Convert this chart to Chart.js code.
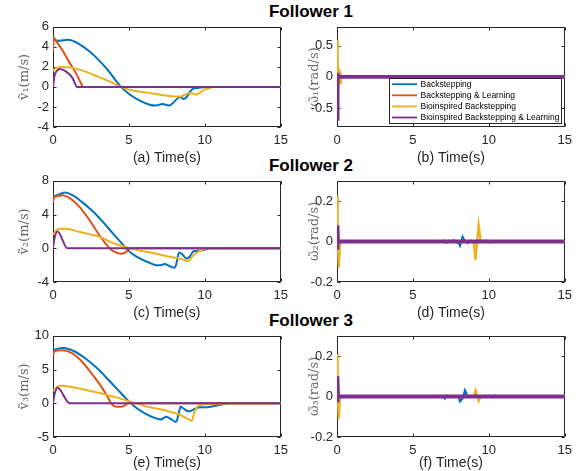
<!DOCTYPE html>
<html>
<head>
<meta charset="utf-8">
<title>Followers</title>
<script src="https://cdn.jsdelivr.net/npm/chart.js@4.4.0/dist/chart.umd.min.js"></script>
<style>
  html, body { margin: 0; padding: 0; background: #fff; }
  #fig { position: relative; width: 583px; height: 471px; overflow: hidden; background: #fff; }
  #fig canvas { position: absolute; }
  .ftitle {
    position: absolute; width: 200px; margin-left: -100px; text-align: center;
    font: bold 17px "Liberation Sans", Arial, sans-serif; line-height: 17px; color: #000;
  }
</style>
</head>
<body>
<div id="fig">
  <div class="ftitle" style="left:311px; top:3px">Follower 1</div>
  <div class="ftitle" style="left:311px; top:157px">Follower 2</div>
  <div class="ftitle" style="left:311px; top:312px">Follower 3</div>
</div>
<script>
// legend names + matlab default colours
const seriesNames = ['Backstepping', 'Backstepping & Learning', 'Bioinspired Backstepping', 'Bioinspired Backstepping & Learning'];
const seriesColors = ['#0072BD', '#D95319', '#EDB120', '#7E2F8E'];

const timeTicks = [0, 5, 10, 15];
const v1Ticks = [-4, -2, 0, 2, 4, 6];
const v2Ticks = [-4, -2, 0, 2, 4, 6, 8];
const v3Ticks = [-5, 0, 5, 10];
const w1Ticks = [-0.5, 0, 0.5];
const w2Ticks = [-0.2, 0, 0.2];
const w3Ticks = [-0.2, 0, 0.2];

// (a) linear velocity error, follower 1  [t, value]
const v1Blue = [[0,4.9],[0.2,4.65],[0.45,4.6],[1.0,4.7],[1.7,4.3],[2.35,3.6],[3.0,2.7],[3.6,1.7],[4.15,0.6],[4.47,0],[5.1,-0.8],[5.75,-1.4],[6.4,-1.8],[6.8,-1.85],[7.2,-1.7],[7.65,-1.85],[7.9,-1.6],[8.2,-1.15],[8.4,-1.0],[8.6,-1.2],[8.8,-1.0],[9.15,-0.25],[9.5,-0.1],[9.8,-0.05],[10.2,0],[15,0]];
const v1Orange = [[0,3.6],[0.05,4.9],[0.2,4.6],[0.64,3.6],[1.06,2.5],[1.5,1.4],[1.8,0.5],[2.0,0],[15,0]];
const v1Yellow = [[0,1.6],[0.15,1.85],[0.6,2.0],[1.3,1.9],[2.1,1.55],[3.0,1.0],[3.85,0.45],[4.47,0],[5.1,-0.3],[6.2,-0.57],[7.2,-0.8],[8.1,-0.95],[8.5,-0.92],[8.8,-0.67],[9.15,-0.62],[9.4,-0.76],[9.7,-0.55],[10.0,-0.25],[10.4,-0.08],[10.6,0],[15,0]];
const v1Purple = [[0,0],[0.1,1.1],[0.25,1.6],[0.45,1.8],[0.85,1.55],[1.28,0.9],[1.6,0],[15,0]];

// (c) follower 2
const v2Blue = [[0,6.1],[0.43,6.4],[0.75,6.6],[1.28,6.3],[1.9,5.5],[2.55,4.5],[3.2,3.3],[3.83,2.0],[4.47,0.7],[5.0,-0.34],[5.5,-1.0],[6.2,-1.6],[6.8,-2.0],[7.1,-2.0],[7.35,-1.86],[7.66,-2.1],[7.98,-2.3],[8.1,-2.0],[8.3,-0.5],[8.5,-0.7],[8.8,-1.2],[9.0,-1.0],[9.25,-0.35],[9.6,-0.3],[9.9,-0.2],[10.3,0],[15,0]];
const v2Orange = [[0,5.5],[0.1,6.1],[0.64,6.3],[1.06,6.0],[1.7,5.0],[2.34,3.5],[2.98,1.75],[3.4,0.7],[3.72,0],[4.04,-0.4],[4.47,-0.65],[4.8,-0.45],[5.0,-0.1],[5.1,0],[15,0]];
const v2Yellow = [[0,1.6],[0.2,2.1],[0.45,2.3],[0.85,2.3],[1.7,1.95],[3.0,1.4],[4.0,0.6],[4.9,0.1],[5.5,-0.2],[6.6,-0.57],[7.66,-1.0],[8.5,-1.3],[8.94,-1.5],[9.15,-1.0],[9.5,-0.5],[9.8,-0.2],[10.1,0],[15,0]];
const v2Purple = [[0,0],[0.1,1.2],[0.3,2.0],[0.95,0],[15,0]];

// (e) follower 3
const v3Blue = [[0,7.85],[0.3,8.1],[0.64,8.2],[0.85,8.15],[1.5,7.6],[2.1,6.7],[3.0,5.0],[3.6,3.6],[4.25,2.05],[4.9,0.5],[5.5,-0.7],[6.2,-1.67],[6.8,-2.24],[7.1,-2.4],[7.45,-2.0],[7.8,-2.4],[8.1,-2.76],[8.26,-1.7],[8.4,-0.5],[8.6,-0.8],[8.94,-1.2],[9.15,-1.05],[9.36,-0.8],[9.8,-0.6],[10.2,-0.6],[10.6,-0.4],[11.1,-0.2],[11.5,0],[15,0]];
const v3Orange = [[0,7.1],[0.1,7.76],[0.64,7.86],[1.28,7.4],[1.9,6.2],[2.55,4.4],[3.2,2.4],[3.6,0.95],[3.83,0],[4.15,-0.5],[4.47,-0.52],[4.8,-0.2],[4.94,0],[15,0]];
const v3Yellow = [[0,1.8],[0.17,2.2],[0.43,2.6],[1.06,2.5],[1.9,2.1],[3.0,1.57],[4.04,0.95],[5.1,0.24],[6.2,-0.5],[7.2,-0.95],[8.3,-1.67],[9.04,-2.5],[9.15,-2.6],[9.3,-1.4],[9.5,-0.5],[9.8,-0.24],[10.4,-0.1],[11.5,-0.05],[11.9,0],[15,0]];
const v3Purple = [[0,0],[0.1,1.3],[0.3,2.3],[1.1,0],[15,0]];

// (b) angular velocity error, follower 1
const w1Blue = [[0,0.05],[0.03,-0.08],[0.06,0.03],[0.1,0],[15,0]];
const w1Orange = [[0,-0.05],[0.03,0.06],[0.06,-0.02],[0.1,0],[15,0]];
const w1Yellow = [[0,0],[0.02,0.59],[0.06,0.3],[0.1,-0.14],[0.15,0.12],[0.2,-0.1],[0.25,0.03],[0.3,0],[15,0]];
const w1Purple = [[0,-0.67],[0.04,0.06],[0.08,0],[15,0]];

// (d) follower 2
const w2Blue = [[0,0],[0.03,0.03],[0.06,-0.02],[0.1,0],[6.9,0],[7.0,0.005],[7.2,-0.006],[7.4,0.004],[7.6,0],[8.0,-0.005],[8.1,-0.02],[8.2,0.005],[8.27,0.023],[8.4,0.005],[8.6,-0.008],[8.8,0.004],[9.0,0],[15,0]];
const w2Orange = [[0,0],[0.03,-0.03],[0.06,0.02],[0.1,0],[7.5,0],[7.7,0.006],[7.9,-0.006],[8.1,0],[9.6,0],[9.8,0.005],[10.0,-0.005],[10.2,0],[15,0]];
const w2Yellow = [[0,0],[0.02,0.227],[0.06,0.05],[0.12,-0.128],[0.18,-0.03],[0.25,0],[9.0,0],[9.12,-0.09],[9.2,-0.02],[9.33,0.08],[9.45,0.01],[9.6,0],[15,0]];
const w2Purple = [[0,-0.03],[0.03,0.08],[0.07,0],[15,0]];

// (f) follower 3
const w3Blue = [[0,0],[0.03,0.02],[0.06,-0.02],[0.1,0],[7.0,0],[7.1,-0.01],[7.2,0.004],[7.5,0],[8.0,0],[8.1,-0.024],[8.27,-0.01],[8.43,0.03],[8.6,0],[10.3,0],[10.4,0.006],[10.5,0],[15,0]];
const w3Orange = [[0,0],[0.03,-0.02],[0.06,0.02],[0.1,0],[15,0]];
const w3Yellow = [[0,0],[0.02,0.21],[0.06,0.05],[0.12,-0.11],[0.18,-0.02],[0.25,0],[9.0,0],[9.12,0.03],[9.2,0.01],[9.33,-0.02],[9.45,0],[15,0]];
const w3Purple = [[0,-0.02],[0.03,0.1],[0.07,0],[15,0]];

const TXT = '#262626';
const SANS = '"Liberation Sans", Arial, sans-serif';
const SERIF = '"DejaVu Serif", "Liberation Serif", serif';

// matlab style box with inward ticks on all four sides
const boxPlugin = {
  id: 'axesBox',
  beforeDatasetsDraw(chart) {
    const { ctx, chartArea: a, scales: { x, y } } = chart;
    const L = Math.round(a.left) + 0.5, R = Math.round(a.right) - 0.5;
    const T = Math.round(a.top) + 0.5, B = Math.round(a.bottom) - 0.5;
    ctx.save();
    ctx.strokeStyle = TXT;
    ctx.lineWidth = 1;
    ctx.strokeRect(L, T, R - L, B - T);
    ctx.beginPath();
    x.ticks.forEach(t => {
      const px = Math.round(x.getPixelForValue(t.value)) + 0.5;
      ctx.moveTo(px, B); ctx.lineTo(px, B - 3);
      ctx.moveTo(px, T); ctx.lineTo(px, T + 3);
    });
    y.ticks.forEach(t => {
      const py = Math.round(y.getPixelForValue(t.value)) + 0.5;
      ctx.moveTo(L, py); ctx.lineTo(L + 3, py);
      ctx.moveTo(R, py); ctx.lineTo(R - 3, py);
    });
    ctx.stroke();
    ctx.restore();
  }
};

// legend box in the lower right corner of panel (b)
const boxLegend = {
  id: 'boxLegend',
  afterDatasetsDraw(chart) {
    const { ctx, chartArea: a } = chart;
    const w = 172, h = 45;
    const bx = Math.round(a.right - 4 - w) + 0.5, by = Math.round(a.bottom - 4 - h) + 0.5;
    ctx.save();
    ctx.fillStyle = '#fff';
    ctx.fillRect(bx, by, w, h);
    ctx.strokeStyle = TXT;
    ctx.lineWidth = 1;
    ctx.strokeRect(bx, by, w, h);
    ctx.font = '8.5px ' + SANS;
    ctx.textBaseline = 'middle';
    chart.data.datasets.forEach((ds, i) => {
      const ly = by + 5.7 + i * 11.1;
      ctx.strokeStyle = ds.borderColor;
      ctx.lineWidth = 1.8;
      ctx.beginPath();
      ctx.moveTo(bx + 2.5, ly); ctx.lineTo(bx + 27.5, ly);
      ctx.stroke();
      ctx.fillStyle = '#000';
      ctx.fillText(ds.label, bx + 31, ly);
    });
    ctx.restore();
  }
};

const colLeft = [53, 337], colRight = [288, 572];
const rowTop = [23, 177, 332], rowBottom = [127, 282, 437];
const yAxisW = [53, 47], xAxisH = [40, 40, 35];
const padT = 8, padR = 6;

function makePanel(row, col, series, yMin, yMax, yTicks, yLabel, xLabel, smooth, widths, withLegend) {
  const fig = document.getElementById('fig');
  const cv = document.createElement('canvas');
  const left = colLeft[col] - yAxisW[col];
  const top = rowTop[row] - padT;
  const w = yAxisW[col] + (colRight[col] - colLeft[col]) + padR;
  const h = padT + (rowBottom[row] - rowTop[row]) + xAxisH[row];
  cv.width = w; cv.height = h;
  cv.style.left = left + 'px'; cv.style.top = top + 'px';
  cv.style.width = w + 'px'; cv.style.height = h + 'px';
  fig.appendChild(cv);

  const datasets = series.map((pts, i) => ({
    label: seriesNames[i],
    data: pts.map(([x, y]) => ({ x, y })),
    borderColor: seriesColors[i],
    borderWidth: widths[i],
    pointRadius: 0,
    fill: false,
    tension: smooth ? 0.4 : 0,
    cubicInterpolationMode: smooth ? 'monotone' : 'default',
    order: 4 - i
  }));

  new Chart(cv, {
    type: 'line',
    data: { datasets },
    options: {
      responsive: false,
      animation: false,
      events: [],
      layout: { padding: { top: padT, right: padR, left: 0, bottom: 0 } },
      plugins: { legend: { display: false }, tooltip: { enabled: false } },
      scales: {
        x: {
          type: 'linear', min: 0, max: 15,
          grid: { display: false, drawTicks: false },
          border: { display: false },
          afterBuildTicks: s => { s.ticks = timeTicks.map(v => ({ value: v })); },
          afterFit: s => { s.height = xAxisH[row]; },
          ticks: { color: TXT, font: { family: SANS, size: 13 }, padding: 6, maxRotation: 0,
                   callback: v => String(v) },
          title: { display: true, text: xLabel, color: TXT, font: { family: SANS, size: 14 },
                   padding: { top: 0, bottom: 0 } }
        },
        y: {
          type: 'linear', min: yMin, max: yMax,
          grid: { display: false, drawTicks: false },
          border: { display: false },
          afterBuildTicks: s => { s.ticks = yTicks.map(v => ({ value: v })); },
          afterFit: s => { s.width = yAxisW[col]; },
          ticks: { color: TXT, font: { family: SANS, size: 13 }, padding: 4,
                   callback: v => String(v) },
          title: { display: true, text: yLabel, color: '#666', font: { family: SERIF, size: 13 },
                   padding: { top: 17, bottom: 0 } }
        }
      }
    },
    plugins: withLegend ? [boxPlugin, boxLegend] : [boxPlugin]
  });
}

const thin = [2, 2, 2, 2];
const thick = [2.2, 2.2, 2.4, 3.8];

makePanel(0, 0, [v1Blue, v1Orange, v1Yellow, v1Purple], -4, 6, v1Ticks, 'ṽ₁(m/s)', '(a) Time(s)', true, thin, false);
makePanel(0, 1, [w1Blue, w1Orange, w1Yellow, w1Purple], -0.8, 0.8, w1Ticks, 'ω̃₁(rad/s)', '(b) Time(s)', false, thick, true);
makePanel(1, 0, [v2Blue, v2Orange, v2Yellow, v2Purple], -4, 8, v2Ticks, 'ṽ₂(m/s)', '(c) Time(s)', true, thin, false);
makePanel(1, 1, [w2Blue, w2Orange, w2Yellow, w2Purple], -0.2, 0.3, w2Ticks, 'ω̃₂(rad/s)', '(d) Time(s)', false, thick, false);
makePanel(2, 0, [v3Blue, v3Orange, v3Yellow, v3Purple], -5, 10, v3Ticks, 'ṽ₃(m/s)', '(e) Time(s)', true, thin, false);
makePanel(2, 1, [w3Blue, w3Orange, w3Yellow, w3Purple], -0.2, 0.3, w3Ticks, 'ω̃₃(rad/s)', '(f) Time(s)', false, thick, false);
</script>
</body>
</html>
